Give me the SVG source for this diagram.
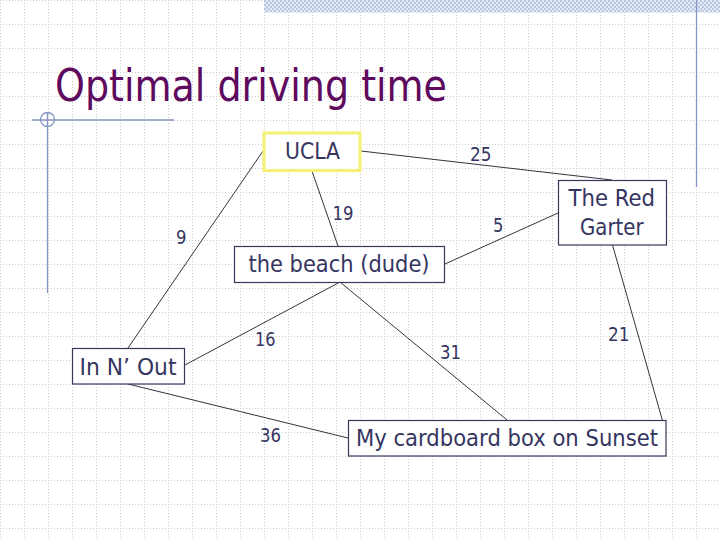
<svg xmlns="http://www.w3.org/2000/svg" width="720" height="540" viewBox="0 0 720 540">
<defs>
<pattern id="grid" width="24" height="24" patternUnits="userSpaceOnUse" x="0" y="0">
<path d="M0 0.5H24M0.5 0V24" fill="none" stroke="#c9c9c9" stroke-width="1" stroke-dasharray="1 2"/>
</pattern>
<pattern id="hatch" width="4" height="4" patternUnits="userSpaceOnUse">
<rect width="4" height="4" fill="#e4eaf4"/>
<rect width="2" height="2" fill="#b9c8e0"/>
<rect x="2" y="2" width="2" height="2" fill="#b9c8e0"/>
</pattern>
<style>
.edge{stroke:#333340;stroke-width:1;fill:none}
.box{fill:#ffffff;stroke:#38385a;stroke-width:1.2}
.lbl{font-family:"DejaVu Sans","Verdana",sans-serif;font-size:23px;fill:#35355f}
.w{font-family:"DejaVu Sans","Verdana",sans-serif;font-size:19px;fill:#35355f}
.deco{stroke:#8595c2;stroke-width:1.3;fill:none}
</style>
</defs>
<rect width="720" height="540" fill="#ffffff"/>
<rect width="720" height="540" fill="url(#grid)"/>
<rect x="264" y="0" width="456" height="12.5" fill="url(#hatch)"/>
<line class="deco" x1="696.5" y1="0" x2="696.5" y2="187"/>
<g id="decoration">
<line class="deco" x1="32" y1="120" x2="174" y2="120"/>
<line class="deco" x1="47.5" y1="112" x2="47.5" y2="293"/>
<circle class="deco" cx="47.5" cy="119.5" r="7" stroke-width="1"/>
</g>
<text x="55" y="101" font-family="'DejaVu Sans',Verdana,sans-serif" font-size="44" fill="#5e0a5e" textLength="392" lengthAdjust="spacingAndGlyphs">Optimal driving time</text>
<g id="connectors">
<line class="edge" x1="263" y1="151" x2="128" y2="348"/>
<line class="edge" x1="361" y1="151" x2="612" y2="180"/>
<line class="edge" x1="312" y1="171" x2="338" y2="246"/>
<line class="edge" x1="445" y1="264" x2="558" y2="213"/>
<line class="edge" x1="340" y1="282" x2="185" y2="365"/>
<line class="edge" x1="340" y1="282" x2="507" y2="420"/>
<line class="edge" x1="128" y1="384" x2="348" y2="438"/>
<line class="edge" x1="612.5" y1="245" x2="666" y2="433"/>
</g>
<g id="weights">
<text class="w" x="470" y="161" textLength="21.5" lengthAdjust="spacingAndGlyphs">25</text>
<text class="w" x="332.5" y="220" textLength="21" lengthAdjust="spacingAndGlyphs">19</text>
<text class="w" x="176" y="243.5" textLength="10.5" lengthAdjust="spacingAndGlyphs">9</text>
<text class="w" x="493" y="232" textLength="10.5" lengthAdjust="spacingAndGlyphs">5</text>
<text class="w" x="255" y="346" textLength="20.5" lengthAdjust="spacingAndGlyphs">16</text>
<text class="w" x="260" y="441.5" textLength="21" lengthAdjust="spacingAndGlyphs">36</text>
<text class="w" x="440" y="358.5" textLength="21" lengthAdjust="spacingAndGlyphs">31</text>
<text class="w" x="608" y="340.5" textLength="21.5" lengthAdjust="spacingAndGlyphs">21</text>
</g>
<g id="ucla">
<rect x="264" y="133" width="96" height="37.5" fill="#ffffff" stroke="#f4f07a" stroke-width="3.2"/>
<text class="lbl" x="285" y="159" textLength="55" lengthAdjust="spacingAndGlyphs">UCLA</text>
</g>
<g id="beach">
<rect class="box" x="234.5" y="246.5" width="210" height="36"/>
<text class="lbl" x="248.5" y="271.5" textLength="181" lengthAdjust="spacingAndGlyphs">the beach (dude)</text>
</g>
<g id="redgarter">
<rect class="box" x="558.5" y="180.5" width="108" height="64.5"/>
<text class="lbl" x="568.5" y="206" textLength="86.5" lengthAdjust="spacingAndGlyphs">The Red</text>
<text class="lbl" x="580" y="234.5" textLength="63.5" lengthAdjust="spacingAndGlyphs">Garter</text>
</g>
<g id="innout">
<rect class="box" x="72.5" y="348.5" width="112" height="35.5"/>
<text class="lbl" x="79.5" y="374.5" textLength="97" lengthAdjust="spacingAndGlyphs">In N’ Out</text>
</g>
<g id="cardboard">
<rect class="box" x="348.5" y="420.5" width="317.5" height="35.5"/>
<text class="lbl" x="356" y="446" textLength="302" lengthAdjust="spacingAndGlyphs">My cardboard box on Sunset</text>
</g>
</svg>
